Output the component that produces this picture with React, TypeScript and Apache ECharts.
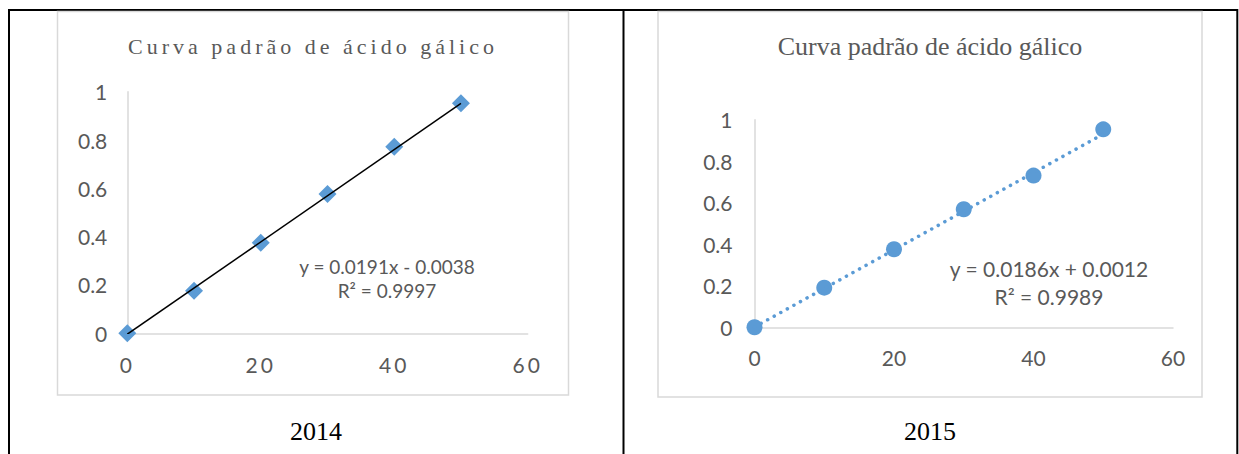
import React, { useEffect, useRef } from "react";
import * as echarts from "echarts";

// ---- data ----
const CONCENTRATIONS = [0, 10, 20, 30, 40, 50];
const ABS_2014 = [0, 0.176, 0.375, 0.577, 0.772, 0.952];
const ABS_2015 = [0, 0.191, 0.376, 0.569, 0.731, 0.954];
const TREND_2014_SLOPE = 0.0191;
const TREND_2014_INTERCEPT = -0.0038;
const TREND_2015_SLOPE = 0.0186;
const TREND_2015_INTERCEPT = 0.0012;
const TREND_X_RANGE = [0, 50];
const EQ_2014 = ["y = 0.0191x - 0.0038", "R² = 0.9997"];
const EQ_2015 = ["y = 0.0186x + 0.0012", "R² = 0.9989"];
const CHART_TITLE = "Curva padrão de ácido gálico";
const CAPTIONS = ["2014", "2015"];
const X_TICK_LABELS = ["0", "20", "40", "60"];

const GRAY = "#595959";
const LIGHT = "#d9d9d9";
const BLUE = "#5b9bd5";
const SANS = "Lato, 'Open Sans', sans-serif";
const SERIF = "'Liberation Serif', 'Times New Roman', serif";

function makeAxes(gridIndex: number, labelMarginY: number, labelMarginX: number) {
  const x = {
    type: "value",
    gridIndex,
    min: 0,
    max: 60,
    interval: 20,
    axisLine: { show: true, onZero: false, lineStyle: { color: LIGHT, width: 1.5 } },
    axisTick: { show: false },
    splitLine: { show: false },
    axisLabel: { color: GRAY, fontFamily: SANS, fontSize: 21, margin: labelMarginX },
  };
  const y = {
    type: "value",
    gridIndex,
    min: 0,
    max: 1,
    interval: 0.2,
    axisLine: { show: true, onZero: false, lineStyle: { color: LIGHT, width: 1.5 } },
    axisTick: { show: false },
    splitLine: { show: false },
    axisLabel: { color: GRAY, fontFamily: SANS, fontSize: 21, margin: labelMarginY },
  };
  return { x, y };
}

function lineEl(x1: number, y1: number, x2: number, y2: number) {
  return {
    type: "line",
    shape: { x1, y1, x2, y2 },
    style: { stroke: "#000", lineWidth: 2 },
    silent: true,
  };
}

function textEl(text: string, x: number, y: number, fontSize: number, fontFamily: string, fill: string) {
  return {
    type: "text",
    x,
    y,
    silent: true,
    style: {
      text,
      fill,
      fontSize,
      fontFamily,
      textAlign: "center",
      textVerticalAlign: "middle",
      align: "center",
      verticalAlign: "middle",
    },
  };
}

export default function App() {
  const ref = useRef<HTMLDivElement>(null);

  useEffect(() => {
    if (!ref.current) return;
    const chart = echarts.init(ref.current, null, { renderer: "svg" });

    const a0 = makeAxes(0, 20, 21);
    const a1 = makeAxes(1, 22, 20);

    const pts2014 = CONCENTRATIONS.map((c, i) => [c, ABS_2014[i]]);
    const pts2015 = CONCENTRATIONS.map((c, i) => [c, ABS_2015[i]]);
    const trend2014 = TREND_X_RANGE.map((c) => [c, TREND_2014_SLOPE * c + TREND_2014_INTERCEPT]);
    const trend2015 = TREND_X_RANGE.map((c) => [c, TREND_2015_SLOPE * c + TREND_2015_INTERCEPT]);

    chart.setOption({
      animation: false,
      backgroundColor: "#ffffff",
      grid: [
        { left: 127.3, top: 91.7, width: 400.4, height: 241.6 },
        { left: 754.5, top: 119.8, width: 418.5, height: 207.5 },
      ],
      xAxis: [a0.x, a1.x],
      yAxis: [a0.y, a1.y],
      series: [
        {
          type: "scatter",
          xAxisIndex: 0,
          yAxisIndex: 0,
          symbol: "diamond",
          symbolSize: 18,
          itemStyle: { color: BLUE, opacity: 1 },
          data: pts2014,
          z: 2,
        },
        {
          type: "line",
          xAxisIndex: 0,
          yAxisIndex: 0,
          symbol: "none",
          lineStyle: { color: "#000", width: 1.5 },
          data: trend2014,
          z: 3,
        },
        {
          type: "scatter",
          xAxisIndex: 1,
          yAxisIndex: 1,
          symbol: "circle",
          symbolSize: 16,
          itemStyle: { color: BLUE, opacity: 1 },
          data: pts2015,
          z: 2,
        },
        {
          type: "line",
          xAxisIndex: 1,
          yAxisIndex: 1,
          symbol: "none",
          lineStyle: { color: BLUE, width: 3.5, type: [0.1, 7.4], cap: "round" },
          data: trend2015,
          z: 3,
        },
      ],
      graphic: [
        // table borders
        lineEl(8, 10, 1238, 10),
        lineEl(9, 9, 9, 454),
        lineEl(623.5, 9, 623.5, 454),
        lineEl(1237.3, 9, 1237.3, 454),
        // chart frames
        {
          type: "rect",
          silent: true,
          shape: { x: 57.5, y: 11.5, width: 511, height: 383.5 },
          style: { fill: "none", stroke: LIGHT, lineWidth: 1.5 },
        },
        {
          type: "rect",
          silent: true,
          shape: { x: 658, y: 11.5, width: 544, height: 385.5 },
          style: { fill: "none", stroke: LIGHT, lineWidth: 1.5 },
        },
        // titles
        textEl(CHART_TITLE, 313, 46.7, 22, SERIF, GRAY),
        textEl(CHART_TITLE, 930, 46.7, 26, SERIF, GRAY),
        // equations
        textEl(EQ_2014[0], 387, 266.7, 19, SANS, GRAY),
        textEl(EQ_2014[1], 387, 290.7, 19, SANS, GRAY),
        textEl(EQ_2015[0], 1049, 268.3, 21, SANS, GRAY),
        textEl(EQ_2015[1], 1049, 296, 21, SANS, GRAY),
        // captions
        textEl(CAPTIONS[0], 316, 431, 26, SERIF, "#000"),
        textEl(CAPTIONS[1], 930, 431, 26, SERIF, "#000"),
      ],
    });

    const applySpacing = () => {
      if (!ref.current) return;
      const texts = ref.current.querySelectorAll("text");
      texts.forEach((t) => {
        const r = t.getBoundingClientRect();
        const s = (t.textContent || "").trim();
        if (s === CHART_TITLE && r.left < 600) {
          t.setAttribute("letter-spacing", "4");
        } else if (X_TICK_LABELS.includes(s) && r.left < 600 && r.top > 345) {
          t.setAttribute("letter-spacing", "3");
        }
      });
    };
    applySpacing();
    const raf = requestAnimationFrame(applySpacing);

    return () => {
      cancelAnimationFrame(raf);
      chart.dispose();
    };
  }, []);

  return (
    <div
      ref={ref}
      style={{ position: "fixed", left: 0, top: 0, width: 1239, height: 454, background: "#fff" }}
    />
  );
}
